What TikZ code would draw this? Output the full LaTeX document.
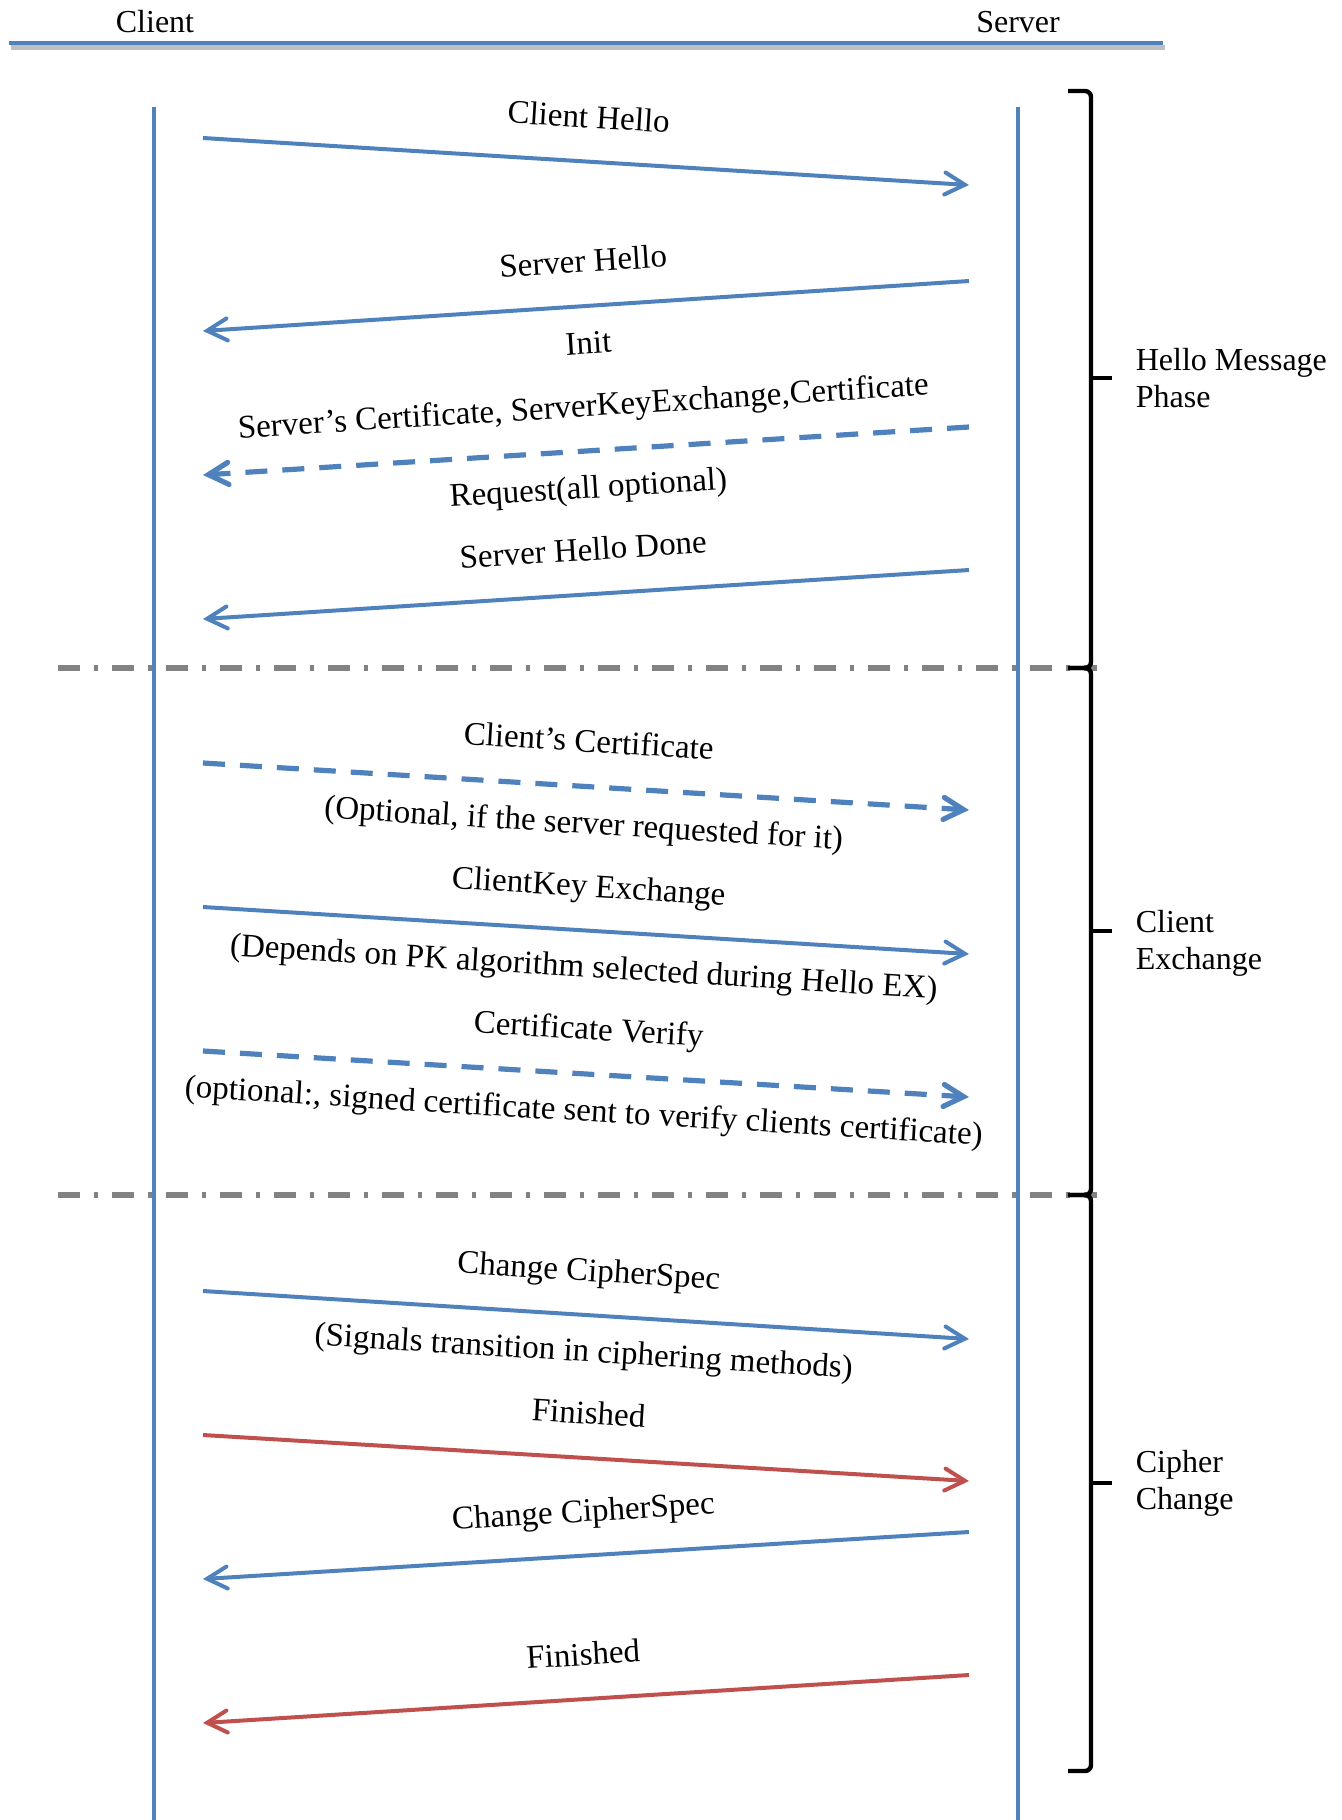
\documentclass[tikz,border=0pt]{standalone}
\usepackage{fontspec}
\setmainfont{Liberation Serif}
\usetikzlibrary{arrows.meta}
\definecolor{lineblue}{RGB}{79,129,189}
\definecolor{linered}{RGB}{192,80,77}
\definecolor{sepgray}{RGB}{130,130,130}

\begin{document}
\begin{tikzpicture}[x=0.5pt,y=-0.5pt,
  >={Straight Barb[length=10pt,width=11pt,line cap=round]},
  life/.style={lineblue,line width=1.6pt},
  msg/.style={->,lineblue,line width=2pt},
  optmsg/.style={msg,line width=2.6pt,dash pattern=on 11pt off 7.5pt},
  finmsg/.style={msg,linered},
  sepline/.style={sepgray,line width=2.6pt,dash pattern=on 11pt off 7pt on 2pt off 7pt},
  brk/.style={line width=2.2pt,rounded corners=3pt},
  lbl/.style={text=black,font=\fontsize{16.5}{19}\selectfont,sloped,text height=11.5pt,text depth=3.6pt},
  phase/.style={text=black,font=\fontsize{16}{18.5}\selectfont,align=left,anchor=west}]
  \useasboundingbox (0,0) rectangle (1342,1820);
  % cabecera
  \node[font=\fontsize{16}{18}\selectfont] (client) at (155,22) {Client};
  \node[font=\fontsize{16}{18}\selectfont] (server) at (1018,22) {Server};
  \draw[black!25,line width=2.5pt] (11,47)--(1165,47);
  \draw[lineblue,line width=2.2pt] (9,43)--(1163,43);
  % lineas de vida
  \coordinate (cTop) at (154,107); \coordinate (cEnd) at (154,1820);
  \coordinate (sTop) at (1018,107); \coordinate (sEnd) at (1018,1820);
  \draw[life] (cTop)--(cEnd);
  \draw[life] (sTop)--(sEnd);
  % separadores de fase
  \coordinate (sepA) at (58,668); \coordinate (sepAr) at (1097,668);
  \coordinate (sepB) at (58,1195); \coordinate (sepBr) at (1097,1195);
  \draw[sepline] (sepA)--(sepAr);
  \draw[sepline] (sepB)--(sepBr);
  % llaves
  \draw[brk] (1068,91)--(1091,91)--(1091,668)--(1068,668);
  \draw[brk] (1068,668)--(1091,668)--(1091,1195)--(1068,1195);
  \draw[brk] (1068,1195)--(1091,1195)--(1091,1771)--(1068,1771);
  \coordinate (b1) at (1091,378); \coordinate (t1) at (1112,378);
  \coordinate (b2) at (1091,931); \coordinate (t2) at (1112,931);
  \coordinate (b3) at (1091,1483); \coordinate (t3) at (1112,1483);
  \draw[line width=2.2pt] (b1)--(t1) node[phase,right=7.5pt] (hello) {Hello Message\\Phase};
  \draw[line width=2.2pt] (b2)--(t2) node[phase,right=7.5pt,yshift=-6pt] (exch) {Client\\Exchange};
  \draw[line width=2.2pt] (b3)--(t3) node[phase,right=7.5pt] (ciph) {Cipher\\Change};
  % hello
  \coordinate (c1) at (203,138); \coordinate (s1) at (969,185);
  \coordinate (c2) at (203,331); \coordinate (s2) at (969,281);
  \coordinate (c3) at (203,475); \coordinate (s3) at (969,427);
  \coordinate (c4) at (203,619); \coordinate (s4) at (969,570);
  \draw[msg] (c1)--(s1) node[lbl,midway,above=9pt]{Client Hello};
  \draw[msg] (s2)--(c2) node[lbl,midway,above=9pt]{Server Hello} node[lbl,midway,below=8pt]{Init};
  \draw[optmsg] (s3)--(c3) node[lbl,midway,above=9pt]{Server’s Certificate, ServerKeyExchange,Certificate}
    node[lbl,midway,below=7.5pt]{Request(all optional)};
  \draw[msg] (s4)--(c4) node[lbl,midway,above=9pt]{Server Hello Done};
  % intercambio del cliente
  \coordinate (c5) at (203,763); \coordinate (s5) at (969,810);
  \coordinate (c6) at (203,907); \coordinate (s6) at (969,954);
  \coordinate (c7) at (203,1051); \coordinate (s7) at (969,1097);
  \draw[optmsg] (c5)--(s5) node[lbl,midway,above=9pt]{Client’s Certificate}
    node[lbl,midway,below=7.5pt]{(Optional, if the server requested for it)};
  \draw[msg] (c6)--(s6) node[lbl,midway,above=9pt]{ClientKey Exchange}
    node[lbl,midway,below=7.5pt]{(Depends on PK algorithm selected during Hello EX)};
  \draw[optmsg] (c7)--(s7) node[lbl,midway,above=9pt]{Certificate Verify}
    node[lbl,midway,below=7.5pt]{(optional:, signed certificate sent to verify clients certificate)};
  % cambio de cifrado
  \coordinate (c8) at (203,1291); \coordinate (s8) at (969,1339);
  \coordinate (c9) at (203,1435); \coordinate (s9) at (969,1481);
  \coordinate (c10) at (203,1579); \coordinate (s10) at (969,1532);
  \coordinate (c11) at (203,1723); \coordinate (s11) at (969,1675);
  \draw[msg] (c8)--(s8) node[lbl,midway,above=9pt]{Change CipherSpec}
    node[lbl,midway,below=7.5pt]{(Signals transition in ciphering methods)};
  \draw[finmsg] (c9)--(s9) node[lbl,midway,above=9pt]{Finished};
  \draw[msg] (s10)--(c10) node[lbl,midway,above=9pt]{Change CipherSpec};
  \draw[finmsg] (s11)--(c11) node[lbl,midway,above=9pt]{Finished};
\end{tikzpicture}
\end{document}
